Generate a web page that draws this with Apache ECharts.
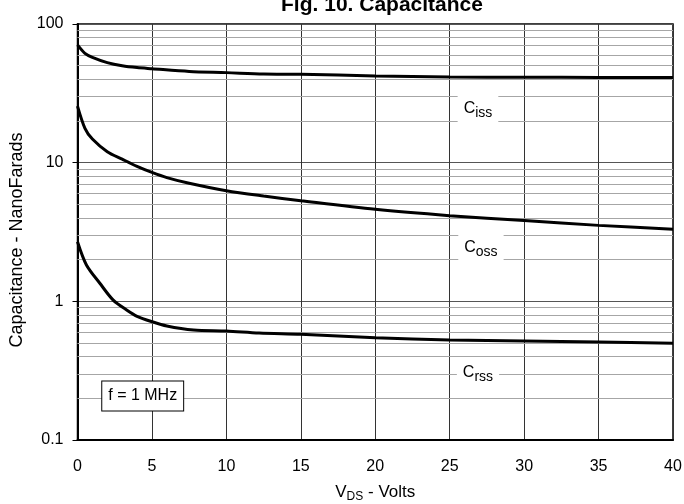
<!DOCTYPE html>
<html>
<head>
<meta charset="utf-8">
<script src="https://cdn.jsdelivr.net/npm/echarts@6/dist/echarts.min.js"></script>
<style>html,body{margin:0;padding:0;background:#fff}#c{width:684px;height:504px}</style>
</head>
<body>
<div id="c"></div>
<script>
// ---- data ----
const cissV = [0, 0.5, 1, 2, 3, 4, 5, 7.5, 10, 12.5, 15, 20, 25, 30, 35, 40];
const cissC = [70.7, 61.5, 57.5, 52.7, 50, 48.5, 47.6, 45.5, 44.6, 43.6, 43.4, 42.2, 41.5, 41.3, 41.2, 41.2];
const cossV = [0, 0.5, 1, 2, 3, 4, 5, 6, 7.5, 10, 12.5, 15, 20, 25, 30, 35, 40];
const cossC = [25.6, 17.7, 14.8, 12.0, 10.6, 9.4, 8.5, 7.8, 7.1, 6.28, 5.75, 5.32, 4.61, 4.15, 3.82, 3.53, 3.31];
const crssV = [0, 0.6, 1.5, 2.4, 3.3, 4, 5, 6, 7.8, 10, 12.2, 15, 20, 25, 30, 35, 40];
const crssC = [2.69, 1.83, 1.35, 1.02, 0.866, 0.78, 0.713, 0.664, 0.621, 0.61, 0.59, 0.578, 0.547, 0.526, 0.518, 0.509, 0.498];
const yTicks = [0.1, 1, 10, 100];
const minorGrid = [0.2,0.3,0.4,0.5,0.6,0.7,0.8,0.9,2,3,4,5,6,7,8,9,20,30,40,50,60,70,80,90];
const curveLabels = [
  {sub: 'iss', x: 26.9, y: 24.8},
  {sub: 'oss', x: 27.1, y: 2.47},
  {sub: 'rss', x: 26.9, y: 0.31}
];
const noteText = 'f = 1 MHz';
const notePos = [4.38, 0.208];

const FONT = 'Arial, "Liberation Sans", sans-serif';
const pair = (xs, ys) => xs.map((x, i) => [x, ys[i]]);

function curve(name, xs, ys, lab) {
  return {
    name, type: 'line', data: pair(xs, ys), showSymbol: false, smooth: 0.3, z: 5,
    lineStyle: {color: '#000', width: 3},
    markPoint: {
      symbol: 'rect', symbolSize: 0, silent: true,
      data: [{coord: [lab.x, lab.y], value: lab.sub}],
      label: {
        show: true, position: 'inside',
        formatter: '{c|C}{s|' + lab.sub + '}',
        backgroundColor: '#fff', padding: [4, 6, 2, 6],
        rich: {
          c: {fontFamily: FONT, fontSize: 16, color: '#000', lineHeight: 22, verticalAlign: 'middle'},
          s: {fontFamily: FONT, fontSize: 14, color: '#000', lineHeight: 22, verticalAlign: 'bottom', padding: [6, 0, 0, 0]}
        }
      }
    }
  };
}

const chart = echarts.init(document.getElementById('c'), null, {renderer: 'canvas'});
chart.setOption({
  animation: false,
  backgroundColor: '#fff',
  title: {
    text: 'Fig. 10. Capacitance', left: 377, top: -10, textAlign: 'center',
    textStyle: {fontFamily: FONT, fontSize: 21, fontWeight: 'bold', color: '#000'}
  },
  grid: {left: 77.5, right: 11, top: 24, bottom: 64, containLabel: false, outerBoundsMode: 'none',
    show: true, borderColor: '#000', borderWidth: 1.5, backgroundColor: 'transparent'},
  xAxis: {
    type: 'value', min: 0, max: 40, interval: 5,
    name: '{v|V}{s|DS}{v| - Volts}', nameLocation: 'middle', nameGap: 41,
    nameTextStyle: {
      rich: {
        v: {fontFamily: FONT, fontSize: 17, color: '#000', lineHeight: 22},
        s: {fontFamily: FONT, fontSize: 12, color: '#000', lineHeight: 22, verticalAlign: 'bottom', padding: [7, 0, 0, 0]}
      }
    },
    axisLine: {lineStyle: {color: '#000', width: 2}},
    axisTick: {show: false},
    axisLabel: {fontFamily: FONT, fontSize: 16, color: '#000', margin: 19},
    splitLine: {show: true, lineStyle: {color: '#333', width: 1}}
  },
  yAxis: {
    type: 'log', logBase: 10, min: yTicks[0], max: yTicks[yTicks.length - 1],
    name: 'Capacitance - NanoFarads', nameLocation: 'middle', nameGap: 47, nameRotate: 90,
    nameTextStyle: {fontFamily: FONT, fontSize: 18, color: '#000', padding: [0, 16, 0, 0]},
    axisLine: {show: true, lineStyle: {color: '#000', width: 2}},
    axisTick: {show: true, length: 5, lineStyle: {color: '#000'}},
    axisLabel: {fontFamily: FONT, fontSize: 16, color: '#000', margin: 14,
      formatter: v => String(yTicks.find(t => Math.abs(t - v) / t < 1e-6) ?? v)},
    splitLine: {show: true, lineStyle: {color: '#555', width: 1}},
    minorTick: {show: false}, minorSplitLine: {show: false}
  },
  series: [
    {
      name: 'minor', type: 'line', data: [], z: 1, silent: true,
      markLine: {
        silent: true, symbol: 'none', label: {show: false},
        lineStyle: {color: '#a6a6a6', width: 1, type: 'solid'},
        data: minorGrid.map(v => ({yAxis: v}))
      },
      markPoint: {
        symbol: 'rect', symbolSize: 0, silent: true,
        data: [{coord: notePos}],
        label: {
          show: true, position: 'inside', formatter: noteText,
          fontFamily: FONT, fontSize: 16, color: '#000',
          backgroundColor: '#fff', borderColor: '#000', borderWidth: 1, padding: [7, 6, 6, 6]
        }
      }
    },
    curve('Ciss', cissV, cissC, curveLabels[0]),
    curve('Coss', cossV, cossC, curveLabels[1]),
    curve('Crss', crssV, crssC, curveLabels[2])
  ]
});
</script>
</body>
</html>
